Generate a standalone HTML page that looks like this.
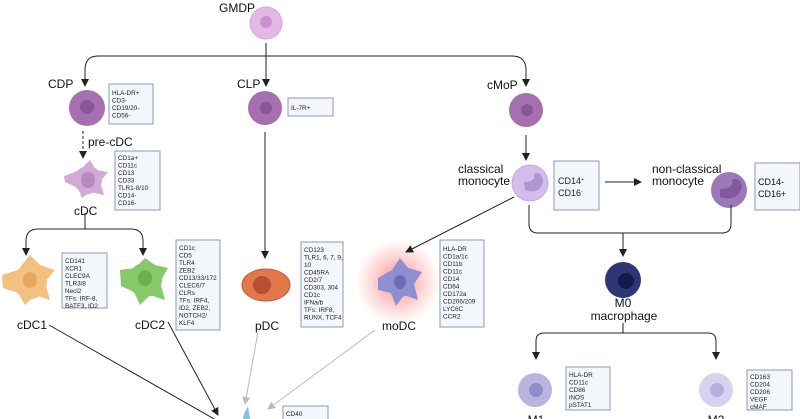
<!DOCTYPE html>
<html><head><meta charset="utf-8"><style>
html,body{margin:0;padding:0;background:#fff;width:800px;height:419px;overflow:hidden}
svg{display:block;font-family:"Liberation Sans",sans-serif}
.l{font-size:12px;fill:#111}
.s{font-size:6.4px;fill:#222}
.b{fill:#f3f6fb;stroke:#8d99b3;stroke-width:1}
.k{stroke:#222;stroke-width:1;fill:none}
.g{stroke:#bbb;stroke-width:1;fill:none}
</style></head><body>
<svg width="800" height="419" viewBox="0 0 800 419">
<defs>
<marker id="a" markerWidth="8" markerHeight="8" refX="7" refY="4" orient="auto" markerUnits="userSpaceOnUse"><path d="M0,0L8,4L0,8z" fill="#222"/></marker>
<marker id="ag" markerWidth="8" markerHeight="8" refX="7" refY="4" orient="auto" markerUnits="userSpaceOnUse"><path d="M0,0L8,4L0,8z" fill="#bbb"/></marker>
<radialGradient id="rg"><stop offset="0" stop-color="#ff6a6a" stop-opacity=".8"/><stop offset="1" stop-color="#ff8080" stop-opacity="0"/></radialGradient>
</defs>
<!-- GMDP -->
<text x="219" y="12" class="l">GMDP</text>
<circle cx="266" cy="23" r="16" fill="#e2b8e6" stroke="#d7a5dc"/>
<circle cx="266" cy="22" r="6" fill="#c98fcf"/>
<path class="k" d="M266,43V86" marker-end="url(#a)"/>
<path class="k" d="M98,56H512Q526,56 526,70V86" marker-end="url(#a)"/>
<path class="k" d="M98,56Q85,56 85,70V86" marker-end="url(#a)"/>
<!-- CDP -->
<text x="48" y="88" class="l">CDP</text>
<circle cx="87" cy="108" r="18" fill="#a56fb0"/><circle cx="87" cy="107" r="7" fill="#8a5699"/>
<rect x="109" y="84" width="44" height="40" class="b"/>
<text class="s"><tspan x="112" y="95">HLA-DR+</tspan><tspan x="112" y="102.5">CD3-</tspan><tspan x="112" y="110">CD19/20-</tspan><tspan x="112" y="117.5">CD56-</tspan></text>
<path d="M83,131V158" stroke="#222" stroke-dasharray="3,2" fill="none" marker-end="url(#a)"/>
<text x="88" y="146" class="l">pre-cDC</text>
<!-- cDC -->
<g fill="#d3a9d6"><circle cx="88" cy="180" r="14"/><path d="M64,176L80,170L90,160L96,170L108,172L100,182L104,195L90,192L82,198L78,188L65,182z"/></g>
<ellipse cx="88" cy="180" rx="7" ry="8" fill="#b888c0"/>
<text x="74" y="215" class="l">cDC</text>
<rect x="115" y="151" width="45" height="59" class="b"/>
<text class="s"><tspan x="118" y="160">CD1a+</tspan><tspan x="118" y="167.5">CD11c</tspan><tspan x="118" y="175">CD13</tspan><tspan x="118" y="182.5">CD33</tspan><tspan x="118" y="190">TLR1-8/10</tspan><tspan x="118" y="197.5">CD14-</tspan><tspan x="118" y="205">CD16-</tspan></text>
<path class="k" d="M85,213V229"/>
<path class="k" d="M85,229H38Q26,229 26,241V255" marker-end="url(#a)"/>
<path class="k" d="M85,229H131Q143,229 143,241V255" marker-end="url(#a)"/>
<!-- cDC1 -->
<g fill="#f3c07e"><circle cx="30" cy="282" r="17"/><path d="M2,275L18,270L30,255L40,265L55,270L45,282L50,300L35,295L25,305L18,293L3,288z"/></g>
<ellipse cx="30" cy="280" rx="7" ry="8" fill="#e6a863"/>
<text x="17" y="329" class="l">cDC1</text>
<rect x="62" y="253" width="45" height="55" class="b"/>
<text class="s"><tspan x="65" y="263">CD141</tspan><tspan x="65" y="270.5">XCR1</tspan><tspan x="65" y="278">CLEC9A</tspan><tspan x="65" y="285.5">TLR3/8</tspan><tspan x="65" y="293">Necl2</tspan><tspan x="65" y="300.5">TFs: IRF-8,</tspan><tspan x="65" y="308">BATF3, ID2</tspan></text>
<!-- cDC2 -->
<g fill="#86c86a"><circle cx="145" cy="280" r="17"/><path d="M120,270L135,268L145,258L155,265L168,268L160,282L165,300L150,295L140,305L134,292L121,286z"/></g>
<ellipse cx="145" cy="278" rx="7" ry="8" fill="#6aaf51"/>
<text x="135" y="329" class="l">cDC2</text>
<rect x="176" y="240" width="44" height="90" class="b"/>
<text class="s"><tspan x="179" y="250">CD1c</tspan><tspan x="179" y="257.5">CD5</tspan><tspan x="179" y="265">TLR4</tspan><tspan x="179" y="272.5">ZEB2</tspan><tspan x="179" y="280">CD13/33/172</tspan><tspan x="179" y="287.5">CLEC6/7</tspan><tspan x="179" y="295">CLRs</tspan><tspan x="179" y="302.5">TFs: IRF4,</tspan><tspan x="179" y="310">ID2, ZEB2,</tspan><tspan x="179" y="317.5">NOTCH2/</tspan><tspan x="179" y="325">KLF4</tspan></text>
<!-- CLP -->
<text x="237" y="88" class="l">CLP</text>
<circle cx="265" cy="108" r="17" fill="#a56fb0"/><circle cx="266" cy="108" r="6" fill="#8a5699"/>
<rect x="288" y="98" width="45" height="18" class="b"/>
<text x="291" y="110" class="s">IL-7R+</text>
<path class="k" d="M265,132V258" marker-end="url(#a)"/>
<!-- pDC -->
<ellipse cx="266" cy="285" rx="24" ry="16" fill="#e0784c" stroke="#c65f36"/>
<circle cx="262" cy="285" r="9" fill="#b55030"/>
<text x="255" y="330" class="l">pDC</text>
<rect x="301" y="242" width="42" height="85" class="b"/>
<text class="s"><tspan x="304" y="252">CD123</tspan><tspan x="304" y="259.5">TLR1, 6, 7, 9,</tspan><tspan x="304" y="267">10</tspan><tspan x="304" y="274.5">CD45RA</tspan><tspan x="304" y="282">CD2/7</tspan><tspan x="304" y="289.5">CD303, 304</tspan><tspan x="304" y="297">CD1c</tspan><tspan x="304" y="304.5">IFNa/b</tspan><tspan x="304" y="312">TFs: IRF8,</tspan><tspan x="304" y="319.5">RUNX, TCF4</tspan></text>
<!-- moDC -->
<circle cx="398" cy="282" r="42" fill="url(#rg)"/>
<g fill="#8c8fd0"><circle cx="400" cy="283" r="14"/><path d="M378,278L392,270L400,258L408,268L422,272L414,284L418,300L404,295L396,306L391,293L378,290z"/></g>
<ellipse cx="400" cy="282" rx="6" ry="7" fill="#6a6db5"/>
<text x="382" y="330" class="l">moDC</text>
<rect x="440" y="240" width="44" height="87" class="b"/>
<text class="s"><tspan x="443" y="251">HLA-DR</tspan><tspan x="443" y="258.5">CD1a/1c</tspan><tspan x="443" y="266">CD11b</tspan><tspan x="443" y="273.5">CD11c</tspan><tspan x="443" y="281">CD14</tspan><tspan x="443" y="288.5">CD64</tspan><tspan x="443" y="296">CD172a</tspan><tspan x="443" y="303.5">CD206/209</tspan><tspan x="443" y="311">LYC6C</tspan><tspan x="443" y="318.5">CCR2</tspan></text>
<!-- cMoP -->
<text x="487" y="89" class="l">cMoP</text>
<circle cx="526" cy="110" r="17" fill="#a56fb0"/><circle cx="527" cy="110" r="6" fill="#8a5699"/>
<path class="k" d="M526,135V160" marker-end="url(#a)"/>
<text class="l"><tspan x="458" y="173">classical</tspan><tspan x="458" y="185">monocyte</tspan></text>
<circle cx="530" cy="183" r="18" fill="#d3bdea" stroke="#c4aae0"/>
<path d="M525,190Q540,195 543,182Q542,170 534,174Q536,182 524,182z" fill="#b097d2"/>
<rect x="554" y="161" width="45" height="49" class="b" stroke-width="1.5"/>
<text x="558" y="184" style="font-size:9px;fill:#222">CD14<tspan font-size="5" dy="-3">+</tspan></text>
<text x="558" y="196" style="font-size:9px;fill:#222">CD16<tspan font-size="5" dy="-3">-</tspan></text>
<path class="k" d="M605,182H641" marker-end="url(#a)"/>
<text class="l"><tspan x="652" y="173">non-classical</tspan><tspan x="652" y="185">monocyte</tspan></text>
<circle cx="729" cy="190" r="18" fill="#9b78b8"/>
<path d="M720,197Q738,202 742,187Q740,176 732,180Q734,189 720,189z" fill="#7f5a9e"/>
<rect x="755" y="163" width="45" height="47" class="b" stroke-width="1.5"/>
<text class="l" style="font-size:9px"><tspan x="758" y="185">CD14-</tspan><tspan x="758" y="197">CD16+</tspan></text>
<path class="k" d="M514,197L406,252" marker-end="url(#a)"/>
<path class="k" d="M529,205V224Q529,233 538,233H722Q731,233 731,224V205"/>
<path class="k" d="M623,233V256" marker-end="url(#a)"/>
<!-- M0 -->
<circle cx="623" cy="280" r="18" fill="#2e3675"/><circle cx="626" cy="281" r="8" fill="#151a4a"/>
<text x="623" y="307" class="l" text-anchor="middle">M0</text>
<text x="624" y="320" class="l" text-anchor="middle">macrophage</text>
<path class="k" d="M623,323V333"/>
<path class="k" d="M623,333H544Q536,333 536,341V359" marker-end="url(#a)"/>
<path class="k" d="M623,333H708Q716,333 716,341V359" marker-end="url(#a)"/>
<circle cx="535" cy="390" r="17" fill="#b8b4e0"/><circle cx="536" cy="390" r="7" fill="#928dc8"/>
<rect x="566" y="367" width="44" height="43" class="b"/>
<text class="s"><tspan x="569" y="377">HLA-DR</tspan><tspan x="569" y="384.5">CD11c</tspan><tspan x="569" y="392">CD86</tspan><tspan x="569" y="399.5">iNOS</tspan><tspan x="569" y="407">pSTAT1</tspan></text>
<text x="536" y="424" class="l" text-anchor="middle">M1</text>
<circle cx="716" cy="390" r="17" fill="#d6d3ef"/><circle cx="717" cy="390" r="7" fill="#b4b0dc"/>
<rect x="747" y="370" width="45" height="40" class="b"/>
<text class="s"><tspan x="750" y="379">CD163</tspan><tspan x="750" y="386.5">CD204</tspan><tspan x="750" y="394">CD206</tspan><tspan x="750" y="401.5">VEGF</tspan><tspan x="750" y="409">cMAF</tspan></text>
<text x="716" y="424" class="l" text-anchor="middle">M2</text>
<!-- bottom -->
<path class="k" d="M49,325L216,420"/>
<path class="k" d="M168,322L218,415" marker-end="url(#a)"/>
<path class="g" d="M258,332L245,404" marker-end="url(#ag)"/>
<path class="g" d="M375,330L268,409" marker-end="url(#ag)"/>
<path d="M244,414L248,406L250,419H243z" fill="#7fc3e0"/>
<rect x="283" y="406" width="45" height="20" class="b"/>
<text x="286" y="416" class="s">CD40</text>
</svg>
</body></html>
